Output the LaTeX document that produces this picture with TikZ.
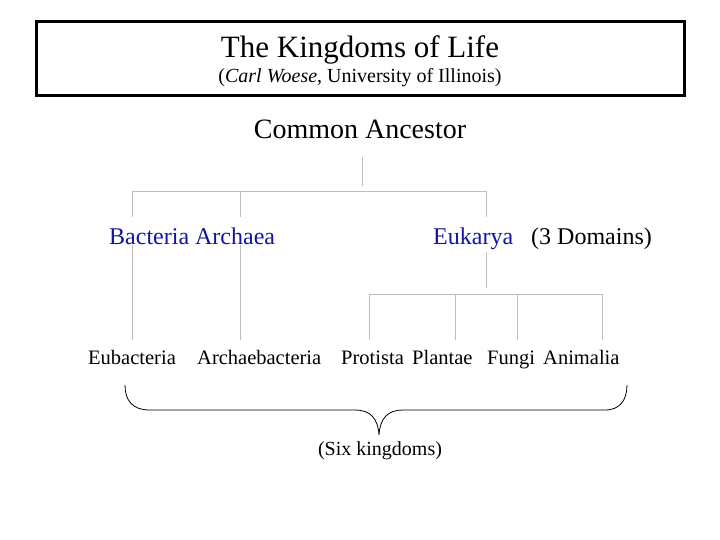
\documentclass[tikz,border=0pt]{standalone}
\usepackage{fontspec}
\setmainfont{Liberation Serif}
\definecolor{lg}{RGB}{190,190,190}
\definecolor{dblue}{RGB}{20,20,160}
\begin{document}
\begin{tikzpicture}[x=1pt,y=-1pt,
  ln/.style={draw=lg,line width=1pt},
  lbl/.style={inner sep=0pt,font=\fontsize{20.5}{24}\selectfont,anchor=base west},
  blu/.style={inner sep=0pt,font=\fontsize{24}{28}\selectfont,text=dblue,anchor=base west}]
\useasboundingbox (0,0) rectangle (720,540);
\node[draw=black,line width=3pt,minimum width=648pt,minimum height=74pt,inner sep=0pt] (box) at (360,59) {};
\node[inner sep=0pt,font=\fontsize{31}{36}\selectfont,anchor=base] (title) at (360,58) {The Kingdoms of Life};
\node[inner sep=0pt,font=\fontsize{20}{24}\selectfont,anchor=base] (sub) at (360,83) {(\textit{Carl Woese}, University of Illinois)};
\node[inner sep=0pt,font=\fontsize{28}{32}\selectfont,anchor=base] (ca) at (360,139) {Common Ancestor};
\node[blu] (bac) at (109,244) {Bacteria Archaea};
\node[blu] (euk) at (433,244) {Eukarya};
\node[inner sep=0pt,font=\fontsize{24}{28}\selectfont,anchor=base west] (dom) at (531,244) {(3 Domains)};
\node[lbl] (eub) at (88,364) {Eubacteria};
\node[lbl] (arc) at (197,364) {Archaebacteria};
\node[lbl] (pro) at (341,364) {Protista};
\node[lbl] (pla) at (412,364) {Plantae};
\node[lbl] (fun) at (487,364) {Fungi};
\node[lbl] (ani) at (543,364) {Animalia};
\node[inner sep=0pt,font=\fontsize{20}{24}\selectfont,anchor=base] (six) at (380,455) {(Six kingdoms)};
% tree lines
\coordinate (c1) at (362,157);
\coordinate (c2) at (362,186);
\draw[ln] (c1) -- (c2);
\draw[ln] (132,217) -- (132,192) -- (486,192) -- (486,217);
\draw[ln] (240,192) -- (240,217);
\draw[ln] (132,245) -- (132,340);
\draw[ln] (240,245) -- (240,340);
\draw[ln] (486,252) -- (486,288);
\draw[ln] (369,340) -- (369,294) -- (602,294) -- (602,340);
\draw[ln] (455,294) -- (455,340);
\draw[ln] (517,294) -- (517,340);
% brace
\draw[black,line width=0.8pt] (125,385) .. controls (125,400) and (132,410) .. (150,410)
  -- (355,410) .. controls (370,410) and (378,418) .. (379,435)
  .. controls (380,418) and (388,410) .. (403,410) -- (605,410)
  .. controls (620,410) and (627,400) .. (627,385);
\end{tikzpicture}
\end{document}
